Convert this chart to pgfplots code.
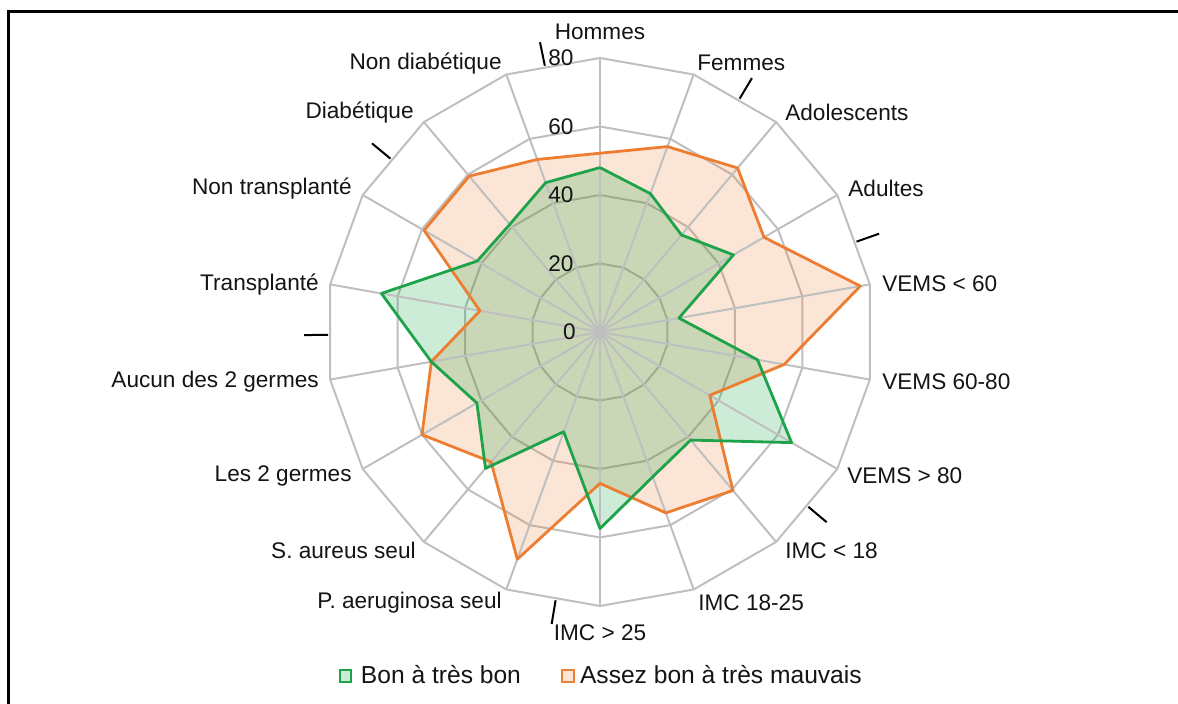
\documentclass[border=0pt]{standalone}
\usepackage{fontspec}
\setmainfont{Liberation Sans}
\usepackage{pgfplots}
\usepackage{pgfplotstable}
\pgfplotsset{compat=1.18}

\definecolor{gline}{RGB}{30,163,74}
\definecolor{oline}{RGB}{237,125,49}
\definecolor{gfill}{RGB}{0,160,60}
\definecolor{ofill}{RGB}{237,125,49}
\definecolor{gbox}{RGB}{204,236,216}
\definecolor{obox}{RGB}{251,229,214}
\definecolor{gridc}{RGB}{191,191,191}
\definecolor{txt}{RGB}{20,20,20}
\newcommand{\lbl}{\fontsize{11.3}{13}\selectfont}
\newcommand{\leg}{\fontsize{12.3}{14}\selectfont}

% angle (deg, counter-clockwise from x axis), green = bon, orange = mauvais
\pgfplotstableread{
a     g     o
90    48    52.2
70    43    57.6
50    37    62.5
30    45    55.3
10    23.4  77.2
-10   46.7  54.6
-30   64.6  37
-50   41.2  60.4
-70   45    56.2
-90   57.4  44.2
-110  31    70.6
-130  52    49.5
-150  41.5  60
-170  50    50
-190  64.8  35.6
-210  41.4  59.3
-230  41    59.4
-250  46.4  53.6
-270  48    52.2
}\radar

\begin{document}
\begin{tikzpicture}
\begin{axis}[
  at={(0,0)}, anchor=origin,
  x=1.7125pt, y=1.7125pt,
  xmin=-80, xmax=80, ymin=-80, ymax=80,
  hide axis, clip=false,
  legend columns=2,
  legend style={draw=none, fill=none, at={(0.504,-0.128)}, anchor=center,
    font=\leg, text=txt,
    /tikz/every even column/.append style={column sep=18pt}},
]
% rings
\pgfplotsinvokeforeach{20,40,60,80}{
  \addplot[gridc, line width=1pt, data cs=polar, forget plot] coordinates {
    (90,#1) (70,#1) (50,#1) (30,#1) (10,#1) (-10,#1) (-30,#1) (-50,#1) (-70,#1)
    (-90,#1) (-110,#1) (-130,#1) (-150,#1) (-170,#1) (-190,#1) (-210,#1)
    (-230,#1) (-250,#1) (-270,#1)};
}
% fills
\addplot[draw=none, fill=ofill, fill opacity=0.2, data cs=polar, forget plot]
  table[x=a, y=o] {\radar} -- cycle;
\addplot[draw=none, fill=gfill, fill opacity=0.2, data cs=polar, forget plot]
  table[x=a, y=g] {\radar} -- cycle;
% spokes
\pgfplotsinvokeforeach{0,...,17}{
  \draw[gridc, line width=1pt] (axis cs:0,0) -- (axis cs:{80*cos(90-20*#1)},{80*sin(90-20*#1)});
}
% series lines
\addplot[oline, line width=1.4pt, line join=round, data cs=polar, forget plot]
  table[x=a, y=o] {\radar};
\addplot[gline, line width=1.4pt, line join=round, data cs=polar, forget plot]
  table[x=a, y=g] {\radar};
% stray tick marks
\pgfplotsinvokeforeach{101.7,59.1,19.4,-40,-99.4,-179.4,-219.6}{
  \addplot[black, line width=1pt, data cs=polar, forget plot] coordinates {(#1,79.4) (#1,86.4)};
}

\addlegendimage{legend image code/.code={\draw[draw=gline, fill=gbox, line width=1.1pt] (0pt,-2.9pt) rectangle (5.8pt,2.9pt); \path[draw=none, fill=none] (8.6pt,0pt) circle (0pt);}}
\addlegendentry{Bon à très bon}
\addlegendimage{legend image code/.code={\draw[draw=oline, fill=obox, line width=1.1pt] (0pt,-2.9pt) rectangle (5.8pt,2.9pt); \path[draw=none, fill=none] (7pt,0pt) circle (0pt);}}
\addlegendentry{Assez bon à très mauvais}

% value labels
\begin{scope}[every node/.style={inner sep=0pt, font=\lbl, text=txt}]
\node[anchor=east] at (axis cs:-7.6,80) {80};
\node[anchor=east] at (axis cs:-7.6,60) {60};
\node[anchor=east] at (axis cs:-7.6,40) {40};
\node[anchor=east] at (axis cs:-7.6,20) {20};
\node[anchor=east] at (axis cs:-7.0,0) {0};
% category labels
\node[anchor=center] at (axis cs:0,87.6) {Hommes};
\node[anchor=west] at (axis cs:28.3,78.5) {Femmes};
\node[anchor=west] at (axis cs:54.0,64.2) {Adolescents};
\node[anchor=west] at (axis cs:72.4,42.0) {Adultes};
\node[anchor=west] at (axis cs:82.3,14.0) {VEMS < 60};
\node[anchor=west] at (axis cs:82.3,-14.6) {VEMS 60-80};
\node[anchor=west] at (axis cs:72.1,-42.0) {VEMS > 80};
\node[anchor=west] at (axis cs:54.0,-63.9) {IMC < 18};
\node[anchor=west] at (axis cs:28.6,-79.1) {IMC 18-25};
\node[anchor=center] at (axis cs:0,-87.9) {IMC > 25};
\node[anchor=east] at (axis cs:-28.6,-79.1) {P. aeruginosa seul};
\node[anchor=east] at (axis cs:-53.7,-63.9) {S. aureus seul};
\node[anchor=east] at (axis cs:-72.4,-42.0) {Les 2 germes};
\node[anchor=east] at (axis cs:-82.0,-14.6) {Aucun des 2 germes};
\node[anchor=east] at (axis cs:-82.0,14.0) {Transplanté};
\node[anchor=east] at (axis cs:-72.4,42.0) {Non transplanté};
\node[anchor=east] at (axis cs:-54.3,64.2) {Diabétique};
\node[anchor=east] at (axis cs:-28.6,78.5) {Non diabétique};
\end{scope}
\end{axis}
% frame (top and left edges visible)
\draw[black, line width=1.5pt] (-295.5pt,-190pt) -- (-295.5pt,160pt) -- (295pt,160pt);
\pgfresetboundingbox
\useasboundingbox (-300pt,-186pt) rectangle (289pt,166pt);
\end{tikzpicture}
\end{document}
